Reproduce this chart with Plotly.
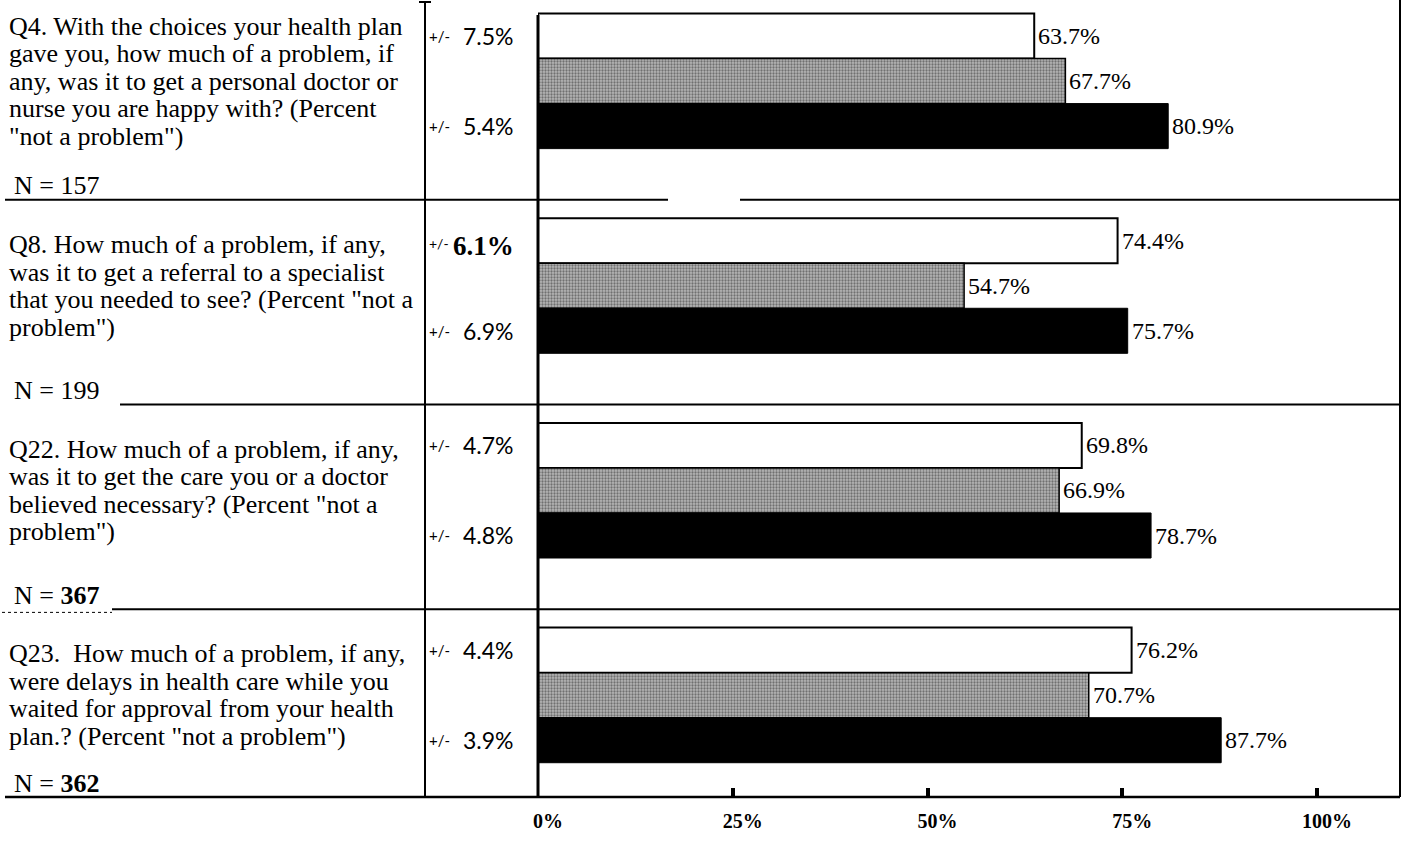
import plotly.graph_objects as go

# ---- data -------------------------------------------------------------
question_lines = [
    ["Q4. With the choices your health plan",
     "gave you, how much of a problem, if",
     "any, was it to get a personal doctor or",
     "nurse you are happy with? (Percent",
     "\"not a problem\")"],
    ["Q8. How much of a problem, if any,",
     "was it to get a referral to a specialist",
     "that you needed to see? (Percent \"not a",
     "problem\")"],
    ["Q22. How much of a problem, if any,",
     "was it to get the care you or a doctor",
     "believed necessary? (Percent \"not a",
     "problem\")"],
    ["Q23.  How much of a problem, if any,",
     "were delays in health care while you",
     "waited for approval from your health",
     "plan.? (Percent \"not a problem\")"],
]
sample_sizes = ["157", "199", "367", "362"]
sample_bold = [False, False, True, True]

white_values = [63.7, 74.4, 69.8, 76.2]
gray_values = [67.7, 54.7, 66.9, 70.7]
black_values = [80.9, 75.7, 78.7, 87.7]

white_margins = ["7.5%", "6.1%", "4.7%", "4.4%"]
black_margins = ["5.4%", "6.9%", "4.8%", "3.9%"]

tick_values = [0, 25, 50, 75, 100]
tick_labels = ["0%", "25%", "50%", "75%", "100%"]

# ---- layout geometry --------------------------------------------------
W, H = 1404, 845
ML, MR, MT, MB = 538, 4, 0, 48
PW, PH = W - ML - MR, H - MT - MB
PX_PER_PCT = 7.79
X_MAX = PW / PX_PER_PCT
ROW_PX = 204.7
Y_TOP = 0.024
Y_BOT = Y_TOP + PH / ROW_PX
LINE_PX = 27.5

OFF_WHITE, OFF_GRAY, OFF_BLACK, BAR_W = 0.2, 0.42, 0.64, 0.22

SERIF = "Liberation Serif, Times New Roman, serif"
SANS = "Lato, Open Sans, sans-serif"


def xp(px):
    return (px - ML) / PW


def yp_data(yd):
    return (Y_BOT - yd) / (Y_BOT - Y_TOP)


def yp_px(py):
    return 1 - (py - MT) / PH


n_rows = len(question_lines)
rows = list(range(n_rows))

fig = go.Figure()

fig.add_trace(go.Bar(
    orientation="h", x=white_values, y=[r + OFF_WHITE for r in rows], width=BAR_W,
    marker=dict(color="white", line=dict(color="black", width=2)),
    hoverinfo="skip"))
fig.add_trace(go.Bar(
    orientation="h", x=gray_values, y=[r + OFF_GRAY for r in rows], width=BAR_W,
    marker=dict(color="#9a9a9a", line=dict(color="black", width=1.5),
                pattern=dict(shape=".", fillmode="overlay", bgcolor="#b6b6b6",
                             fgcolor="#2a2a2a", size=3, solidity=0.45)),
    hoverinfo="skip"))
fig.add_trace(go.Bar(
    orientation="h", x=black_values, y=[r + OFF_BLACK for r in rows], width=BAR_W,
    marker=dict(color="black", line=dict(color="black", width=1)),
    hoverinfo="skip"))

ann = []
# value labels right of bars
for vals, off in ((white_values, OFF_WHITE), (gray_values, OFF_GRAY), (black_values, OFF_BLACK)):
    for r, v in zip(rows, vals):
        ann.append(dict(x=v, y=r + off, xref="x", yref="y", text=f"{v:.1f}%",
                        xanchor="left", yanchor="middle", xshift=2, showarrow=False,
                        font=dict(family=SERIF, size=24, color="black")))

# question text, one annotation per line, centred on the bar block
for r, lines in zip(rows, question_lines):
    n = len(lines)
    for k, line in enumerate(lines):
        ann.append(dict(x=xp(7), y=yp_data(r + OFF_GRAY), xref="paper", yref="paper",
                        text=line, xanchor="left", yanchor="middle", showarrow=False,
                        yshift=-(k - (n - 1) / 2) * LINE_PX,
                        font=dict(family=SERIF, size=26, color="black")))
    num = f"<b>{sample_sizes[r]}</b>" if sample_bold[r] else sample_sizes[r]
    ann.append(dict(x=xp(12), y=yp_data(min(r + 1, Y_BOT)), xref="paper", yref="paper",
                    text=f"N = {num}", xanchor="left", yanchor="middle", yshift=14,
                    showarrow=False, font=dict(family=SERIF, size=26, color="black")))

# margin of error column
for r in rows:
    for off, txt in ((OFF_WHITE, white_margins[r]), (OFF_BLACK, black_margins[r])):
        big = (r == 1 and off == OFF_WHITE)
        ann.append(dict(x=xp(427), y=yp_data(r + off), xref="paper", yref="paper",
                        text="+/-", xanchor="left", yanchor="middle", showarrow=False,
                        yshift=-3 if big else 0,
                        font=dict(family=SANS, size=14 if big else 15, color="black")))
        ann.append(dict(x=xp(516), y=yp_data(r + off), xref="paper", yref="paper",
                        text=f"<b>{txt}</b>" if big else txt,
                        xanchor="right", yanchor="middle", showarrow=False,
                        yshift=-5 if big else 0,
                        font=dict(family=SERIF if big else SANS, size=27 if big else 23,
                                  color="black")))

shapes = []


def hline(x0, x1, yy, w, dash=None):
    shapes.append(dict(type="line", xref="paper", yref="paper", x0=xp(x0), x1=xp(x1),
                       y0=yy, y1=yy, line=dict(color="black", width=w, dash=dash)))


def vline(xx, y0, y1, w):
    shapes.append(dict(type="line", xref="paper", yref="paper", x0=xp(xx), x1=xp(xx),
                       y0=y0, y1=y1, line=dict(color="black", width=w)))


# table rules between questions
hline(5, 668, yp_data(1), 2)
hline(740, 1400, yp_data(1), 2)
hline(120, 1400, yp_data(2), 2)
hline(112, 1400, yp_data(3), 2)
hline(2, 112, yp_data(3) - 0.004, 1, "dot")
hline(5, 1400, 0, 2.5)
# column rules
vline(425, yp_px(2), 0, 2)
hline(419, 431, yp_px(2), 2)
vline(538, yp_px(15), 0, 3)
vline(1400, 1, 0, 2)

fig.update_layout(
    width=W, height=H,
    margin=dict(l=ML, r=MR, t=MT, b=MB),
    paper_bgcolor="white", plot_bgcolor="white",
    showlegend=False, barmode="overlay",
    annotations=ann, shapes=shapes,
    xaxis=dict(range=[0, X_MAX], tickmode="array", tickvals=tick_values,
               ticktext=[f"<b>{t}</b>" for t in tick_labels],
               ticks="inside", ticklen=9, tickwidth=4, tickcolor="black",
               ticklabelstandoff=10, ticklabelshift=10,
               tickfont=dict(family=SERIF, size=20, color="black"),
               showgrid=False, zeroline=False, showline=False, fixedrange=True),
    yaxis=dict(range=[Y_BOT, Y_TOP], showticklabels=False, ticks="", showgrid=False,
               zeroline=False, showline=False, fixedrange=True),
)

fig.write_html("out.html")
